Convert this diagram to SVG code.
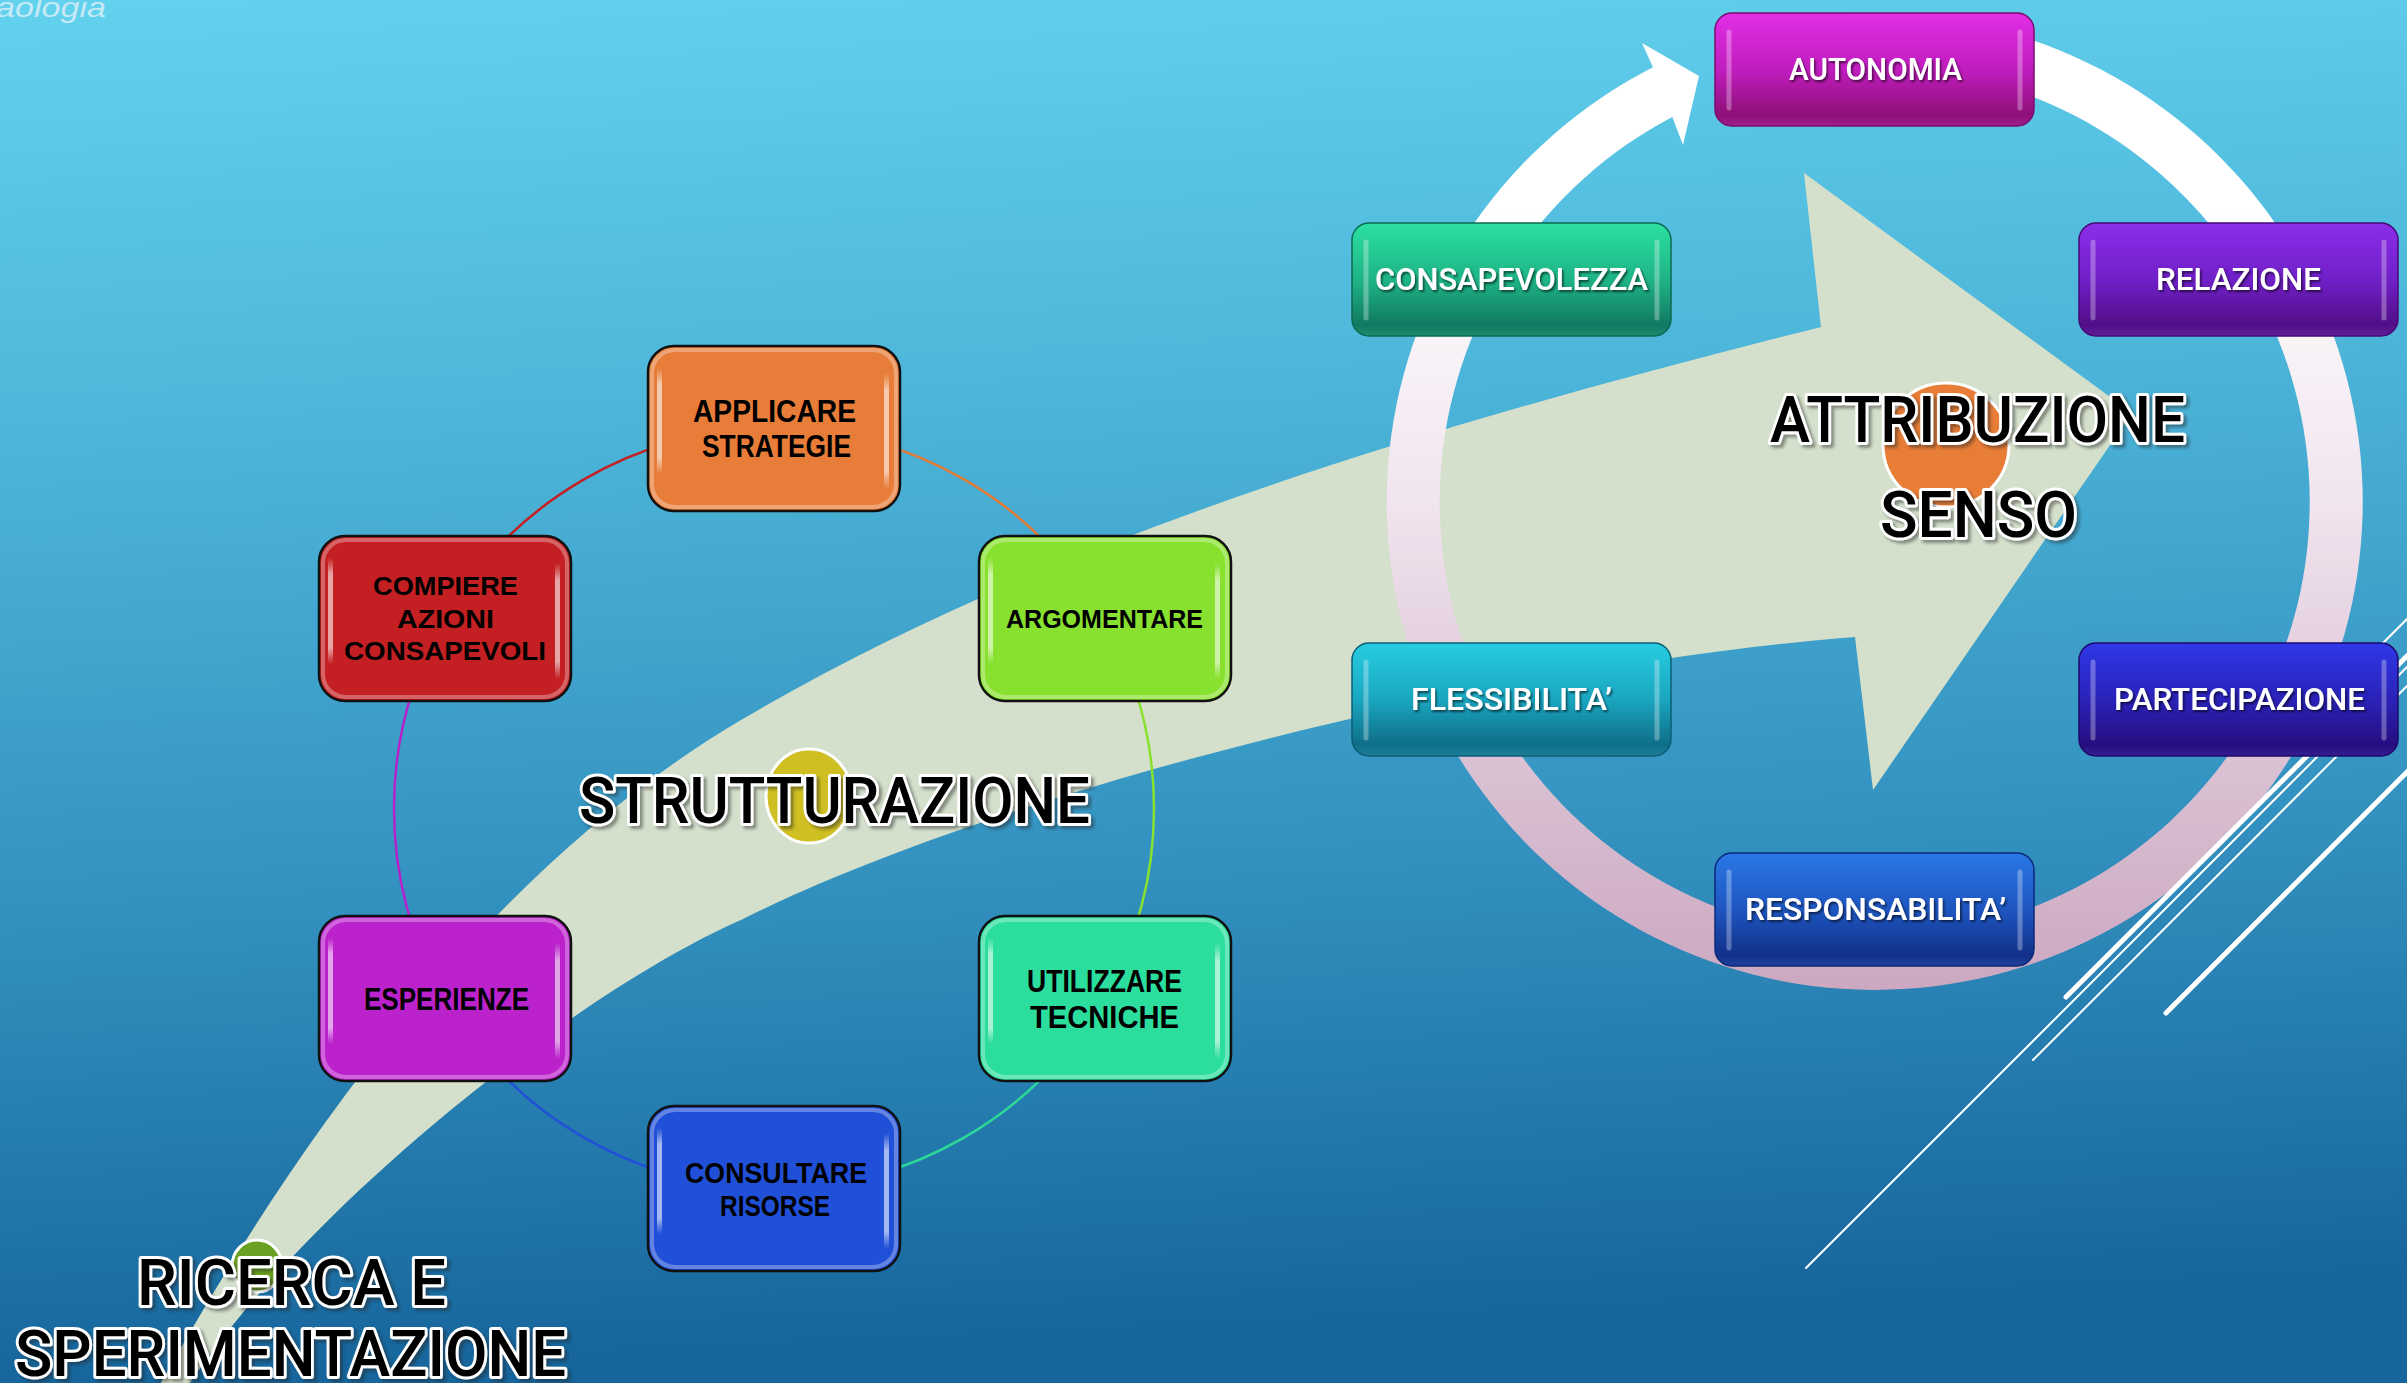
<svg xmlns="http://www.w3.org/2000/svg" width="2407" height="1383" viewBox="0 0 2407 1383">
  <defs>
    <linearGradient id="bg" x1="0" y1="0" x2="0.08" y2="1">
      <stop offset="0" stop-color="#62D2EE"/>
      <stop offset="0.36" stop-color="#4AB1D6"/>
      <stop offset="0.66" stop-color="#3391BF"/>
      <stop offset="1" stop-color="#16659C"/>
    </linearGradient>
    <linearGradient id="ring" gradientUnits="userSpaceOnUse" x1="0" y1="14" x2="0" y2="990">
      <stop offset="0" stop-color="#FFFFFF"/>
      <stop offset="0.2" stop-color="#FFFFFF"/>
      <stop offset="0.5" stop-color="#F1E5EF"/>
      <stop offset="0.75" stop-color="#DBC3D5"/>
      <stop offset="1" stop-color="#CCA8C1"/>
    </linearGradient>
    <linearGradient id="shine" x1="0" y1="0" x2="0" y2="1">
      <stop offset="0" stop-color="#fff" stop-opacity="0"/>
      <stop offset="0.15" stop-color="#fff" stop-opacity="0.85"/>
      <stop offset="0.85" stop-color="#fff" stop-opacity="0.85"/>
      <stop offset="1" stop-color="#fff" stop-opacity="0"/>
    </linearGradient>
    <linearGradient id="gAut" x1="0" y1="0" x2="0" y2="1">
      <stop offset="0" stop-color="#E22EE6"/>
      <stop offset="0.5" stop-color="#C01DBE"/>
      <stop offset="0.9" stop-color="#8E0F78"/>
      <stop offset="1" stop-color="#A0208C"/>
    </linearGradient>
    <linearGradient id="gCon" x1="0" y1="0" x2="0" y2="1">
      <stop offset="0" stop-color="#2BE0A0"/>
      <stop offset="0.5" stop-color="#1FB487"/>
      <stop offset="0.9" stop-color="#107A62"/>
      <stop offset="1" stop-color="#1F8A70"/>
    </linearGradient>
    <linearGradient id="gRel" x1="0" y1="0" x2="0" y2="1">
      <stop offset="0" stop-color="#8B2EEA"/>
      <stop offset="0.5" stop-color="#7020C8"/>
      <stop offset="0.9" stop-color="#520E88"/>
      <stop offset="1" stop-color="#621C98"/>
    </linearGradient>
    <linearGradient id="gFle" x1="0" y1="0" x2="0" y2="1">
      <stop offset="0" stop-color="#26CDE2"/>
      <stop offset="0.5" stop-color="#1AA6C0"/>
      <stop offset="0.9" stop-color="#0F6E88"/>
      <stop offset="1" stop-color="#1E7E96"/>
    </linearGradient>
    <linearGradient id="gPar" x1="0" y1="0" x2="0" y2="1">
      <stop offset="0" stop-color="#2F38E8"/>
      <stop offset="0.5" stop-color="#2A22B8"/>
      <stop offset="0.9" stop-color="#260E80"/>
      <stop offset="1" stop-color="#351E90"/>
    </linearGradient>
    <linearGradient id="gRes" x1="0" y1="0" x2="0" y2="1">
      <stop offset="0" stop-color="#2A78E6"/>
      <stop offset="0.5" stop-color="#1E56C0"/>
      <stop offset="0.9" stop-color="#11308A"/>
      <stop offset="1" stop-color="#20409A"/>
    </linearGradient>
    <filter id="ts" x="-10%" y="-30%" width="120%" height="160%">
      <feDropShadow dx="1.5" dy="2" stdDeviation="1" flood-color="#000" flood-opacity="0.6"/>
    </filter>
    <filter id="bs" x="-5%" y="-20%" width="110%" height="140%">
      <feDropShadow dx="3" dy="3" stdDeviation="1.5" flood-color="#222" flood-opacity="0.45"/>
    </filter>
    <style>
      .lb { stroke:#111; stroke-width:2.5; }
      .rim { fill:none; stroke:#fff; stroke-opacity:0.3; stroke-width:4; }
      .hl { stroke:url(#shine); stroke-width:4; fill:none; opacity:0.7; }
      .rhl { stroke:#fff; stroke-width:5; stroke-linecap:round; opacity:0.3; fill:none; }
      .lt { font-family:"Liberation Sans", Arial, sans-serif; font-weight:700; fill:#000; }
      .rt { font-family:Roboto, "Liberation Sans", Arial, sans-serif; font-weight:500; fill:#fff; font-size:31px; filter:url(#ts); }
      .big { font-family:Roboto, "Liberation Sans", Arial, sans-serif; font-weight:500; font-size:65px; fill:#000; stroke:#fff; stroke-width:6; paint-order:stroke; stroke-linejoin:round; filter:url(#bs); }
      .arc { fill:none; stroke-width:2.5; }
      .deco { stroke:#fff; stroke-linecap:round; fill:none; }
      .dot { stroke:#fff; stroke-width:3; }
    </style>
  </defs>

  <!-- background -->
  <rect x="0" y="0" width="2407" height="1383" fill="url(#bg)"/>
  <text x="-4" y="17" font-family="Liberation Sans, Arial, sans-serif" font-style="italic" font-size="28" fill="#D8EEF7" fill-opacity="0.85" textLength="110" lengthAdjust="spacingAndGlyphs">aologia</text>

  <!-- large curved arrow -->
  <path id="big-arrow" fill="#D4E0CB" d="M154,1395 C280,1170 470,880 741,720 C1041,543 1421,427 1821,327 L1804,173 L2132,413 L1873,790 L1855,637 C1500,665 1000,790 741,920 C580,990 300,1210 182,1395 Z"/>

  <!-- stage markers -->
  <ellipse class="dot" cx="257" cy="1266" rx="25" ry="26" fill="#6AA122"/>
  <ellipse class="dot" cx="809" cy="796" rx="43" ry="47" fill="#CFBF22"/>

  <!-- connectors of the left cycle -->
  <g id="connectors">
    <path class="arc" stroke="#E07A35" d="M774,428.5 A380,380 0 0 1 1103.1,618.5"/>
    <path class="arc" stroke="#88E12E" d="M1103.1,618.5 A380,380 0 0 1 1103.1,998.5"/>
    <path class="arc" stroke="#2CD99A" d="M1103.1,998.5 A380,380 0 0 1 774,1188.5"/>
    <path class="arc" stroke="#2150D8" d="M774,1188.5 A380,380 0 0 1 444.9,998.5"/>
    <path class="arc" stroke="#B522CC" d="M444.9,998.5 A380,380 0 0 1 444.9,618.5"/>
    <path class="arc" stroke="#C42023" d="M444.9,618.5 A380,380 0 0 1 774,428.5"/>
  </g>

  <!-- left cycle nodes -->
  <g id="applicare">
    <rect class="lb" x="648" y="346" width="252" height="165" rx="26" fill="#E77D38"/>
    <rect class="rim" x="652" y="350" width="244" height="157" rx="23"/>
    <rect class="hl" x="659" y="368" width="1" height="106"/>
    <rect class="hl" x="886" y="373" width="1" height="116"/>
    <text class="lt" font-size="32" x="693" y="422" textLength="163" lengthAdjust="spacingAndGlyphs">APPLICARE</text>
    <text class="lt" font-size="32" x="702" y="457" textLength="149" lengthAdjust="spacingAndGlyphs">STRATEGIE</text>
  </g>
  <g id="compiere">
    <rect class="lb" x="319" y="536" width="252" height="165" rx="26" fill="#C42023"/>
    <rect class="rim" x="323" y="540" width="244" height="157" rx="23"/>
    <rect class="hl" x="330" y="558" width="1" height="106"/>
    <rect class="hl" x="557" y="563" width="1" height="116"/>
    <text class="lt" font-size="26" x="373" y="595" textLength="145" lengthAdjust="spacingAndGlyphs">COMPIERE</text>
    <text class="lt" font-size="26" x="397" y="628" textLength="97" lengthAdjust="spacingAndGlyphs">AZIONI</text>
    <text class="lt" font-size="26" x="344" y="660" textLength="202" lengthAdjust="spacingAndGlyphs">CONSAPEVOLI</text>
  </g>
  <g id="argomentare">
    <rect class="lb" x="979" y="536" width="252" height="165" rx="26" fill="#88E12E"/>
    <rect class="rim" x="983" y="540" width="244" height="157" rx="23"/>
    <rect class="hl" x="990" y="558" width="1" height="106"/>
    <rect class="hl" x="1217" y="563" width="1" height="116"/>
    <text class="lt" font-size="26" x="1006" y="628" textLength="197" lengthAdjust="spacingAndGlyphs">ARGOMENTARE</text>
  </g>
  <g id="esperienze">
    <rect class="lb" x="319" y="916" width="252" height="165" rx="26" fill="#BB22CC"/>
    <rect class="rim" x="323" y="920" width="244" height="157" rx="23"/>
    <rect class="hl" x="330" y="938" width="1" height="106"/>
    <rect class="hl" x="557" y="943" width="1" height="116"/>
    <text class="lt" font-size="32" x="364" y="1010" textLength="165" lengthAdjust="spacingAndGlyphs">ESPERIENZE</text>
  </g>
  <g id="utilizzare">
    <rect class="lb" x="979" y="916" width="252" height="165" rx="26" fill="#2CDE9E"/>
    <rect class="rim" x="983" y="920" width="244" height="157" rx="23"/>
    <rect class="hl" x="990" y="938" width="1" height="106"/>
    <rect class="hl" x="1217" y="943" width="1" height="116"/>
    <text class="lt" font-size="32" x="1027" y="992" textLength="155" lengthAdjust="spacingAndGlyphs">UTILIZZARE</text>
    <text class="lt" font-size="32" x="1030" y="1028" textLength="149" lengthAdjust="spacingAndGlyphs">TECNICHE</text>
  </g>
  <g id="consultare">
    <rect class="lb" x="648" y="1106" width="252" height="165" rx="26" fill="#2150D8"/>
    <rect class="rim" x="652" y="1110" width="244" height="157" rx="23"/>
    <rect class="hl" x="659" y="1128" width="1" height="106"/>
    <rect class="hl" x="886" y="1133" width="1" height="116"/>
    <text class="lt" font-size="29" x="685" y="1183" textLength="182" lengthAdjust="spacingAndGlyphs">CONSULTARE</text>
    <text class="lt" font-size="29" x="720" y="1216" textLength="110" lengthAdjust="spacingAndGlyphs">RISORSE</text>
  </g>

  <!-- circular arrow of the right cycle -->
  <path id="ring-arrow" fill="url(#ring)" d="M1806.6,18.7 A488,488 0 1 1 1653,67.2 L1642,43 L1699,76 L1683,145 L1672.3,116.9 A435,435 0 1 0 1814,71.2 Z"/>

  <!-- decorative diagonal strokes -->
  <g id="strokes">
    <path class="deco" stroke-width="5" d="M2066,997 L2420,643"/>
    <path class="deco" stroke-width="2" d="M1806,1268 L2420,654"/>
    <path class="deco" stroke-width="2" d="M2033,1060 L2420,673"/>
    <path class="deco" stroke-width="5" d="M2166,1013 L2420,759"/>
    <path class="deco" stroke-width="2" d="M2330,696 L2420,606"/>
  </g>

  <!-- right cycle nodes -->
  <g id="autonomia">
    <rect x="1715" y="13" width="319" height="113" rx="17" fill="url(#gAut)" stroke="#7A0C6C" stroke-width="1.5"/>
    <line class="rhl" x1="1729" y1="32" x2="1729" y2="108"/>
    <line class="rhl" x1="2020" y1="32" x2="2020" y2="108"/>
    <text class="rt" x="1789" y="80" textLength="173" lengthAdjust="spacingAndGlyphs">AUTONOMIA</text>
  </g>
  <g id="consapevolezza">
    <rect x="1352" y="223" width="319" height="113" rx="17" fill="url(#gCon)" stroke="#0C6A52" stroke-width="1.5"/>
    <line class="rhl" x1="1366" y1="242" x2="1366" y2="318"/>
    <line class="rhl" x1="1657" y1="242" x2="1657" y2="318"/>
    <text class="rt" x="1375" y="290" textLength="273" lengthAdjust="spacingAndGlyphs">CONSAPEVOLEZZA</text>
  </g>
  <g id="relazione">
    <rect x="2079" y="223" width="319" height="113" rx="17" fill="url(#gRel)" stroke="#440A78" stroke-width="1.5"/>
    <line class="rhl" x1="2093" y1="242" x2="2093" y2="318"/>
    <line class="rhl" x1="2384" y1="242" x2="2384" y2="318"/>
    <text class="rt" x="2156" y="290" textLength="165" lengthAdjust="spacingAndGlyphs">RELAZIONE</text>
  </g>
  <g id="flessibilita">
    <rect x="1352" y="643" width="319" height="113" rx="17" fill="url(#gFle)" stroke="#0B5E76" stroke-width="1.5"/>
    <line class="rhl" x1="1366" y1="662" x2="1366" y2="738"/>
    <line class="rhl" x1="1657" y1="662" x2="1657" y2="738"/>
    <text class="rt" x="1411" y="710" textLength="201" lengthAdjust="spacingAndGlyphs">FLESSIBILITA’</text>
  </g>
  <g id="partecipazione">
    <rect x="2079" y="643" width="319" height="113" rx="17" fill="url(#gPar)" stroke="#1E0A6C" stroke-width="1.5"/>
    <line class="rhl" x1="2093" y1="662" x2="2093" y2="738"/>
    <line class="rhl" x1="2384" y1="662" x2="2384" y2="738"/>
    <text class="rt" x="2114" y="710" textLength="251" lengthAdjust="spacingAndGlyphs">PARTECIPAZIONE</text>
  </g>
  <g id="responsabilita">
    <rect x="1715" y="853" width="319" height="113" rx="17" fill="url(#gRes)" stroke="#0C2878" stroke-width="1.5"/>
    <line class="rhl" x1="1729" y1="872" x2="1729" y2="948"/>
    <line class="rhl" x1="2020" y1="872" x2="2020" y2="948"/>
    <text class="rt" x="1745" y="920" textLength="261" lengthAdjust="spacingAndGlyphs">RESPONSABILITA’</text>
  </g>

  <!-- stage marker of the arrow head -->
  <ellipse class="dot" cx="1946" cy="445" rx="63" ry="62" fill="#E87D37"/>

  <!-- stage titles -->
  <g id="titles">
    <text class="big" x="579" y="823" textLength="511" lengthAdjust="spacingAndGlyphs">STRUTTURAZIONE</text>
    <text class="big" x="1770" y="442" textLength="415" lengthAdjust="spacingAndGlyphs">ATTRIBUZIONE</text>
    <text class="big" x="1880" y="537" textLength="197" lengthAdjust="spacingAndGlyphs">SENSO</text>
    <text class="big" font-size="63" x="137" y="1305" textLength="309" lengthAdjust="spacingAndGlyphs">RICERCA E</text>
    <text class="big" x="15" y="1376" textLength="551" lengthAdjust="spacingAndGlyphs">SPERIMENTAZIONE</text>
  </g>
</svg>
